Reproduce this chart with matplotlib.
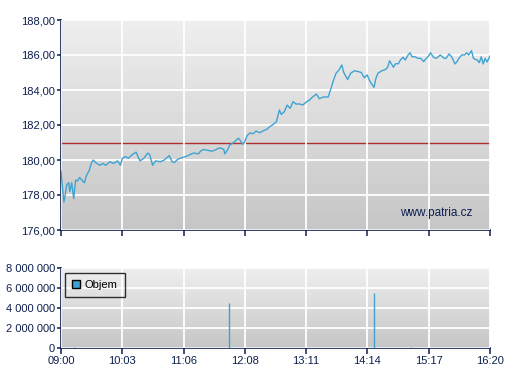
import numpy as np
import matplotlib
matplotlib.use("Agg")
import matplotlib.pyplot as plt
from matplotlib.colors import LinearSegmentedColormap
from matplotlib.ticker import FuncFormatter

plt.rcParams['font.family'] = ['Liberation Sans', 'DejaVu Sans']

# minutes from 09:00 and price
minutes = [0, 1, 3, 4, 6, 8, 9, 11, 13, 15, 17, 19, 24, 26, 29, 31, 33, 36, 40, 43,
           46, 50, 54, 58, 61, 63, 66, 69, 73, 77, 81, 85, 89, 91, 94, 97, 102, 106,
           111, 114, 116, 120, 125, 128, 132, 136, 141, 143, 146, 151, 155, 159, 163,
           167, 168, 171, 173, 177, 182, 184, 186, 188, 191, 194, 197, 200, 204, 207,
           211, 214, 218, 221, 224, 226, 229, 232, 235, 238, 241, 245, 248, 252, 255,
           258, 262, 265, 269, 274, 277, 279, 282, 285, 288, 290, 294, 297, 301, 305,
           308, 311, 314, 317, 321, 323, 325, 329, 333, 335, 337, 341, 343, 346, 348,
           351, 353, 356, 358, 360, 363, 366, 369, 372, 374, 377, 379, 382, 385, 389,
           393, 395, 398, 401, 402, 404, 406, 408, 411, 414, 416, 418, 421, 423, 425,
           427, 429, 431, 433, 435, 437, 440]
price = [179.37, 178.7, 177.6, 177.9, 178.6, 178.7, 178.2, 178.7, 177.8, 178.85,
         178.8, 179.0, 178.7, 179.1, 179.4, 179.8, 180.0, 179.83, 179.7, 179.8,
         179.7, 179.9, 179.8, 179.95, 179.7, 180.1, 180.2, 180.1, 180.3, 180.45,
         179.95, 180.1, 180.4, 180.3, 179.7, 179.95, 179.9, 180.0, 180.25, 179.9,
         179.85, 180.05, 180.15, 180.2, 180.3, 180.4, 180.35, 180.5, 180.6, 180.55,
         180.5, 180.6, 180.7, 180.6, 180.35, 180.6, 180.85, 181.0, 181.25, 181.1,
         180.9, 181.0, 181.4, 181.55, 181.5, 181.65, 181.56, 181.66, 181.75, 181.9,
         182.05, 182.2, 182.86, 182.6, 182.76, 183.14, 182.95, 183.33, 183.2, 183.2,
         183.14, 183.33, 183.43, 183.6, 183.77, 183.5, 183.6, 183.6, 184.1, 184.48,
         184.95, 185.14, 185.43, 185.0, 184.6, 184.95, 185.1, 185.05, 185.0, 184.7,
         184.86, 184.48, 184.15, 184.67, 184.95, 185.1, 185.18, 185.3, 185.67, 185.3,
         185.5, 185.5, 185.71, 185.87, 185.71, 186.0, 186.13, 185.9, 185.9, 185.81,
         185.81, 185.62, 185.77, 185.94, 186.13, 185.87, 185.81, 186.0, 185.81, 185.81,
         186.06, 185.87, 185.75, 185.49, 185.6, 185.81, 186.0, 186.0, 186.13, 186.0,
         186.25, 185.81, 185.75, 185.71, 185.56, 185.9, 185.49, 185.81, 185.6, 185.94]
prev_close = 180.95

vol_minutes = [13, 172, 321, 359]
volume = [150000, 4500000, 5550000, 100000]

tick_labels = ['09:00', '10:03', '11:06', '12:08', '13:11', '14:14', '15:17', '16:20']
price_ticks = [176, 178, 180, 182, 184, 186, 188]
vol_ticks = [0, 2000000, 4000000, 6000000, 8000000]

navy = '#0d1f4f'
line_blue = '#3fa3d2'
grad = LinearSegmentedColormap.from_list('g', ['#c6c6c6', '#efefef'])

fig = plt.figure(figsize=(5.07, 3.8), dpi=100)
ax1 = fig.add_axes([61 / 507, 150 / 380, 429 / 507, 210 / 380])
ax2 = fig.add_axes([61 / 507, 32 / 380, 429 / 507, 80 / 380])

xticks = np.linspace(0, 440, 8)


def style(ax):
    ax.imshow(np.linspace(0, 1, 256).reshape(-1, 1), cmap=grad, origin='lower',
              extent=[0, 1, 0, 1], transform=ax.transAxes, aspect='auto', zorder=0)
    for s in ['top', 'right']:
        ax.spines[s].set_visible(False)
    for s in ['left', 'bottom']:
        ax.spines[s].set_color(navy)
        ax.spines[s].set_linewidth(1.2)
    ax.set_xticks(xticks)
    ax.set_xlim(0, 440)
    ax.grid(True, color='white', linewidth=1.3, zorder=1)
    ax.set_axisbelow(False)
    ax.tick_params(colors=navy, labelcolor=navy, labelsize=8, width=1.1)
    ax.tick_params(axis='y', length=3, pad=1.5)
    ax.tick_params(axis='x', length=4, pad=2)


style(ax1)
ax1.set_ylim(176, 188)
ax1.set_yticks(price_ticks)
ax1.yaxis.set_major_formatter(FuncFormatter(lambda v, p: ('%.2f' % v).replace('.', ',')))
ax1.set_xticklabels([])
ax1.axhline(prev_close, color='#b03030', linewidth=1.0, zorder=2)
ax1.plot(minutes, price, color=line_blue, linewidth=1.0, zorder=3)
ax1.text(0.96, 0.08, 'www.patria.cz', transform=ax1.transAxes, ha='right', va='center',
         color=navy, fontsize=8.5, zorder=4)

style(ax2)
ax2.set_ylim(0, 8000000)
ax2.set_yticks(vol_ticks)
ax2.yaxis.set_major_formatter(FuncFormatter(lambda v, p: format(int(v), ',').replace(',', ' ')))
ax2.set_xticklabels(tick_labels)
ax2.vlines(vol_minutes, 0, volume, color=line_blue, linewidth=1.0, zorder=3)
ax2.bar([-10], [0], color=line_blue, label='Objem')
leg = ax2.legend(loc='upper left', handlelength=0.75, handleheight=0.75, fontsize=8,
                 handletextpad=0.4, frameon=True, fancybox=False, borderpad=0.65,
                 borderaxespad=0, bbox_to_anchor=(0.009, 0.9375))
leg.get_frame().set_edgecolor('black')
leg.get_frame().set_facecolor('none')
leg.get_frame().set_linewidth(1.0)
for h in leg.legend_handles:
    h.set_edgecolor('black')
    h.set_linewidth(1.0)

fig.savefig('out.png', dpi=100)
